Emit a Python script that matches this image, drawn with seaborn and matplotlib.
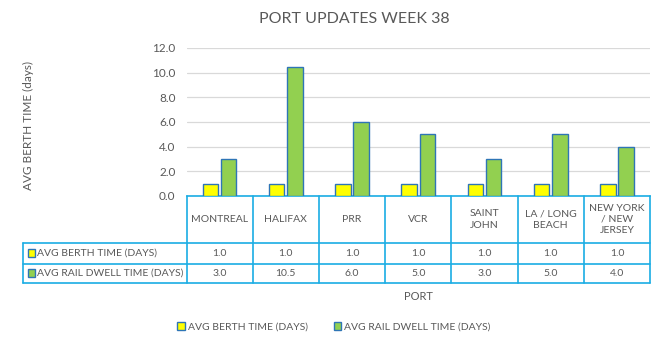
import pandas as pd
import matplotlib.pyplot as plt
import matplotlib.transforms as mtransforms
from matplotlib.lines import Line2D
from matplotlib.patches import Rectangle
import seaborn as sns

ports = ["MONTREAL", "HALIFAX", "PRR", "VCR", "SAINT\nJOHN", "LA / LONG\nBEACH",
         "NEW YORK\n/ NEW\nJERSEY"]
berth = [1.0, 1.0, 1.0, 1.0, 1.0, 1.0, 1.0]
rail = [3.0, 10.5, 6.0, 5.0, 3.0, 5.0, 4.0]
series = ["AVG BERTH TIME (DAYS)", "AVG RAIL DWELL TIME (DAYS)"]
colors = ["#FFFF00", "#92D050"]

df = pd.DataFrame({"port": ports * 2,
                   "value": berth + rail,
                   "series": [series[0]] * len(ports) + [series[1]] * len(ports)})

sns.set_style("white")
plt.rcParams['font.family'] = ['Lato', 'DejaVu Sans']
gray = "#595959"
line_c = "#1AADE4"
edge_c = "#2E75B6"

W, H = 663, 359
fig = plt.figure(figsize=(W / 100, H / 100), dpi=100)
ax = fig.add_axes([186.5 / W, 1 - 196 / H, 463.5 / W, 148 / H])

sns.barplot(data=df, x="port", y="value", hue="series", palette=colors,
            saturation=1, width=0.55, gap=0.15, edgecolor=edge_c, linewidth=1,
            legend=False, ax=ax, zorder=3)

ax.set_xlim(-0.5, len(ports) - 0.5)
ax.set_ylim(0, 12)
ax.set_yticks([0, 2, 4, 6, 8, 10, 12])
ax.set_yticklabels([f"{v:.1f}" for v in ax.get_yticks()], color=gray, fontsize=8.5)
ax.set_xticks([])
ax.set_xlabel("")
ax.set_ylabel("")
ax.tick_params(axis="y", length=0, pad=8)
ax.grid(axis="y", color="#D9D9D9", linewidth=0.9, zorder=0)
for s in ["top", "right", "left"]:
    ax.spines[s].set_visible(False)
ax.spines["bottom"].set_color(line_c)
ax.spines["bottom"].set_linewidth(1.2)

# data table below the axis
tr = mtransforms.blended_transform_factory(ax.transData, ax.transAxes)
y_hdr = -(243 - 196) / 148
y_r1 = -(263.5 - 196) / 148
y_r2 = -(283 - 196) / 148
x_left = -0.5 + (23.5 - 186.5) / 66.21
n = len(ports)
for i in range(n + 1):
    ax.add_line(Line2D([i - 0.5, i - 0.5], [0, y_r2], transform=tr,
                       color=line_c, lw=1.2, clip_on=False))
for yy in [y_hdr, y_r1, y_r2]:
    ax.add_line(Line2D([x_left, n - 0.5], [yy, yy], transform=tr,
                       color=line_c, lw=1.2, clip_on=False))
ax.add_line(Line2D([x_left, x_left], [y_hdr, y_r2], transform=tr,
                   color=line_c, lw=1.2, clip_on=False))

for i, p in enumerate(ports):
    ax.text(i, y_hdr / 2, p, transform=tr, ha="center", va="center",
            color=gray, fontsize=7.5, linespacing=1.3)
rows = [berth, rail]
mids = [(y_hdr + y_r1) / 2, (y_r1 + y_r2) / 2]
for vals, name, col, ym in zip(rows, series, colors, mids):
    for i, v in enumerate(vals):
        ax.text(i, ym, f"{v:.1f}", transform=tr, ha="center", va="center",
                color=gray, fontsize=7.5)
    ax.add_patch(Rectangle((x_left + 0.07, ym - 0.028), 0.1, 0.056, transform=tr,
                           facecolor=col, edgecolor=edge_c, lw=1, clip_on=False))
    ax.text(x_left + 0.2, ym, name, transform=tr, ha="left", va="center",
            color=gray, fontsize=7.5)

# axis title sits under the middle of the plot area
ax.text(0.5, -(296 - 196) / 148, "PORT", transform=ax.transAxes, ha="center",
        va="center", color=gray, fontsize=8)
fig.text(28 / W, 1 - 125 / H, "AVG BERTH TIME (days)", rotation=90,
         ha="center", va="center", color=gray, fontsize=8.5)
fig.text(354 / W, 1 - 19 / H, "PORT UPDATES WEEK 38", ha="center", va="center",
         color=gray, fontsize=11.5)

handles = [Rectangle((0, 0), 1, 1, facecolor=c, edgecolor=edge_c, lw=1) for c in colors]
fig.legend(handles, series, loc="center", bbox_to_anchor=(334 / W, 1 - 327 / H),
           ncol=2, frameon=False, fontsize=7.5, labelcolor=gray,
           handlelength=0.7, handleheight=0.7, handletextpad=0.3, columnspacing=2.5)

fig.savefig("out.png", dpi=100, facecolor="white")
